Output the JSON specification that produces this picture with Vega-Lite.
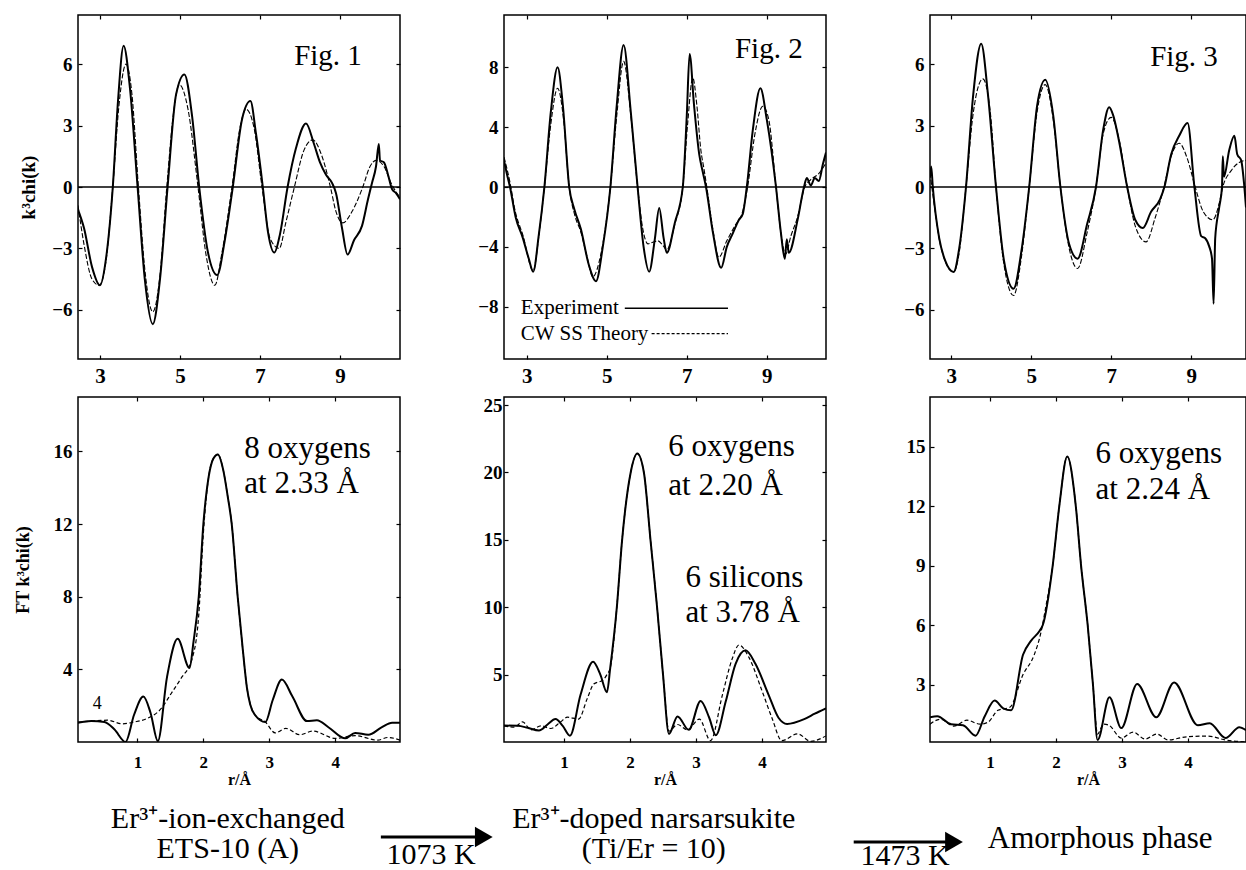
{
"$schema": "https://vega.github.io/schema/vega-lite/v6.json",
"padding": {"left": 13, "top": 13, "right": 0, "bottom": 0},
"background": "white",
"config": {
 "view": {"stroke": "black", "strokeWidth": 1.5},
 "axis": {"labelFont": "Liberation Serif", "labelFontWeight": "bold", "labelColor": "black", "tickColor": "black", "tickSize": -4, "tickWidth": 1.2, "domain": false, "grid": false, "titleFont": "Liberation Serif", "titleFontWeight": "bold", "titleColor": "black"},
 "text": {"font": "Liberation Serif", "color": "black"}
},
"datasets": {
 "t1e": [{"x":2.45,"y":-1.1},{"x":2.6,"y":-2.0},{"x":2.8,"y":-3.9},{"x":3.0,"y":-4.8},{"x":3.15,"y":-3.5},{"x":3.32,"y":0},{"x":3.45,"y":4.2},{"x":3.59,"y":6.9},{"x":3.75,"y":4.8},{"x":3.94,"y":0},{"x":4.12,"y":-4.5},{"x":4.32,"y":-6.7},{"x":4.5,"y":-4.5},{"x":4.69,"y":0},{"x":4.9,"y":4.5},{"x":5.11,"y":5.5},{"x":5.3,"y":3.5},{"x":5.48,"y":0},{"x":5.7,"y":-3.2},{"x":5.93,"y":-4.3},{"x":6.12,"y":-2.6},{"x":6.32,"y":0},{"x":6.55,"y":3.3},{"x":6.76,"y":4.2},{"x":6.9,"y":2.6},{"x":7.07,"y":0},{"x":7.2,"y":-2.2},{"x":7.36,"y":-3.2},{"x":7.5,"y":-2.3},{"x":7.69,"y":0},{"x":7.9,"y":1.9},{"x":8.15,"y":3.1},{"x":8.35,"y":2.1},{"x":8.5,"y":1.2},{"x":8.65,"y":0.6},{"x":8.8,"y":0.2},{"x":8.9,"y":-0.3},{"x":9.05,"y":-2.0},{"x":9.19,"y":-3.3},{"x":9.35,"y":-2.6},{"x":9.55,"y":-1.9},{"x":9.7,"y":-0.6},{"x":9.8,"y":0.2},{"x":9.9,"y":1.0},{"x":9.97,"y":2.1},{"x":10.0,"y":1.3},{"x":10.1,"y":1.2},{"x":10.2,"y":0.6},{"x":10.3,"y":-0.1},{"x":10.4,"y":-0.3},{"x":10.5,"y":-0.6}],
 "t1t": [{"x":2.45,"y":-0.9},{"x":2.6,"y":-2.8},{"x":2.8,"y":-4.5},{"x":2.98,"y":-4.8},{"x":3.15,"y":-3.6},{"x":3.32,"y":0},{"x":3.47,"y":3.9},{"x":3.65,"y":6.0},{"x":3.8,"y":4.5},{"x":3.96,"y":0},{"x":4.13,"y":-4.2},{"x":4.32,"y":-6.1},{"x":4.5,"y":-4.3},{"x":4.67,"y":0},{"x":4.85,"y":3.8},{"x":4.98,"y":5.0},{"x":5.2,"y":3.8},{"x":5.45,"y":0},{"x":5.65,"y":-3.3},{"x":5.87,"y":-4.8},{"x":6.05,"y":-3.2},{"x":6.3,"y":0},{"x":6.5,"y":2.9},{"x":6.65,"y":3.8},{"x":6.85,"y":2.9},{"x":7.05,"y":0},{"x":7.25,"y":-2.5},{"x":7.48,"y":-3.0},{"x":7.65,"y":-1.7},{"x":7.86,"y":0},{"x":8.1,"y":1.8},{"x":8.32,"y":2.3},{"x":8.55,"y":1.5},{"x":8.76,"y":0},{"x":8.9,"y":-1.2},{"x":9.07,"y":-1.75},{"x":9.3,"y":-1.2},{"x":9.57,"y":0},{"x":9.75,"y":1.0},{"x":9.9,"y":1.3},{"x":10.1,"y":1.0},{"x":10.3,"y":0.1},{"x":10.5,"y":-0.5}],
 "t2e": [{"x":2.43,"y":1.8},{"x":2.5,"y":0.9},{"x":2.58,"y":0},{"x":2.72,"y":-2.0},{"x":2.9,"y":-3.4},{"x":3.05,"y":-4.8},{"x":3.16,"y":-5.66},{"x":3.3,"y":-3.2},{"x":3.44,"y":0},{"x":3.6,"y":5.0},{"x":3.77,"y":8.0},{"x":3.9,"y":5.5},{"x":4.06,"y":0},{"x":4.19,"y":-1.5},{"x":4.35,"y":-2.8},{"x":4.55,"y":-5.2},{"x":4.73,"y":-6.3},{"x":4.9,"y":-4.0},{"x":5.09,"y":0},{"x":5.25,"y":5.5},{"x":5.42,"y":9.5},{"x":5.6,"y":5.0},{"x":5.77,"y":0},{"x":5.92,"y":-4.0},{"x":6.06,"y":-5.66},{"x":6.2,"y":-3.5},{"x":6.31,"y":-1.4},{"x":6.42,"y":-3.4},{"x":6.5,"y":-4.4},{"x":6.7,"y":-2.4},{"x":6.9,"y":0},{"x":7.0,"y":4.8},{"x":7.07,"y":8.9},{"x":7.18,"y":5.5},{"x":7.31,"y":2.2},{"x":7.4,"y":1.0},{"x":7.48,"y":0},{"x":7.65,"y":-3.0},{"x":7.86,"y":-5.4},{"x":8.0,"y":-4.0},{"x":8.15,"y":-3.1},{"x":8.3,"y":-2.2},{"x":8.4,"y":-1.8},{"x":8.5,"y":0},{"x":8.65,"y":3.8},{"x":8.84,"y":6.6},{"x":9.0,"y":4.5},{"x":9.23,"y":0},{"x":9.35,"y":-3.0},{"x":9.45,"y":-4.8},{"x":9.5,"y":-3.5},{"x":9.55,"y":-4.4},{"x":9.77,"y":-2.2},{"x":9.93,"y":0},{"x":10.0,"y":0.6},{"x":10.1,"y":0.1},{"x":10.2,"y":0.6},{"x":10.3,"y":0.4},{"x":10.4,"y":1.5},{"x":10.48,"y":2.3}],
 "t2t": [{"x":2.43,"y":2.0},{"x":2.58,"y":0.3},{"x":2.7,"y":-1.5},{"x":2.9,"y":-3.2},{"x":3.16,"y":-5.6},{"x":3.3,"y":-3.3},{"x":3.44,"y":0},{"x":3.6,"y":4.2},{"x":3.77,"y":6.6},{"x":3.92,"y":4.5},{"x":4.06,"y":0},{"x":4.2,"y":-1.9},{"x":4.35,"y":-3.0},{"x":4.5,"y":-4.6},{"x":4.65,"y":-6.0},{"x":4.85,"y":-4.5},{"x":5.09,"y":0},{"x":5.25,"y":4.8},{"x":5.42,"y":8.4},{"x":5.6,"y":4.8},{"x":5.77,"y":0},{"x":5.9,"y":-2.8},{"x":6.03,"y":-3.8},{"x":6.15,"y":-3.7},{"x":6.28,"y":-3.6},{"x":6.4,"y":-3.9},{"x":6.5,"y":-4.2},{"x":6.7,"y":-2.5},{"x":6.9,"y":0},{"x":7.02,"y":4.2},{"x":7.15,"y":7.3},{"x":7.25,"y":5.5},{"x":7.35,"y":2.5},{"x":7.43,"y":1.2},{"x":7.5,"y":0},{"x":7.65,"y":-2.8},{"x":7.8,"y":-4.7},{"x":8.0,"y":-3.6},{"x":8.2,"y":-2.6},{"x":8.4,"y":-1.6},{"x":8.52,"y":0},{"x":8.7,"y":3.5},{"x":8.9,"y":5.4},{"x":9.05,"y":4.5},{"x":9.23,"y":0},{"x":9.35,"y":-3.0},{"x":9.47,"y":-4.5},{"x":9.6,"y":-3.3},{"x":9.77,"y":-2.0},{"x":9.95,"y":0},{"x":10.1,"y":0.5},{"x":10.3,"y":0.9},{"x":10.48,"y":1.6}],
 "t3e": [{"x":2.47,"y":0.5},{"x":2.5,"y":1.0},{"x":2.54,"y":0},{"x":2.7,"y":-2.5},{"x":2.85,"y":-3.6},{"x":3.06,"y":-4.15},{"x":3.2,"y":-3.0},{"x":3.37,"y":0},{"x":3.55,"y":4.5},{"x":3.75,"y":7.0},{"x":3.92,"y":4.5},{"x":4.12,"y":0},{"x":4.32,"y":-3.6},{"x":4.56,"y":-4.97},{"x":4.75,"y":-3.2},{"x":4.95,"y":0},{"x":5.15,"y":4.0},{"x":5.35,"y":5.24},{"x":5.55,"y":3.5},{"x":5.73,"y":0},{"x":5.95,"y":-2.8},{"x":6.16,"y":-3.5},{"x":6.4,"y":-1.8},{"x":6.62,"y":0},{"x":6.8,"y":2.8},{"x":6.95,"y":3.9},{"x":7.05,"y":3.5},{"x":7.2,"y":2.2},{"x":7.4,"y":0},{"x":7.6,"y":-1.6},{"x":7.79,"y":-2.0},{"x":8.0,"y":-1.2},{"x":8.22,"y":-0.6},{"x":8.33,"y":0},{"x":8.5,"y":1.6},{"x":8.7,"y":2.5},{"x":8.91,"y":3.12},{"x":9.08,"y":0},{"x":9.25,"y":-2.4},{"x":9.35,"y":-2.5},{"x":9.45,"y":-2.9},{"x":9.52,"y":-3.5},{"x":9.56,"y":-5.7},{"x":9.6,"y":-2.5},{"x":9.7,"y":-1.0},{"x":9.77,"y":0},{"x":9.79,"y":1.5},{"x":9.82,"y":0.5},{"x":9.95,"y":1.8},{"x":10.08,"y":2.5},{"x":10.15,"y":1.6},{"x":10.25,"y":1.3},{"x":10.32,"y":0.2},{"x":10.37,"y":-1.0}],
 "t3t": [{"x":2.47,"y":0.7},{"x":2.55,"y":-0.5},{"x":2.75,"y":-3.0},{"x":3.06,"y":-4.15},{"x":3.2,"y":-3.2},{"x":3.37,"y":0},{"x":3.55,"y":3.6},{"x":3.79,"y":5.28},{"x":3.98,"y":3.6},{"x":4.12,"y":0},{"x":4.32,"y":-3.8},{"x":4.56,"y":-5.3},{"x":4.75,"y":-3.5},{"x":4.95,"y":0},{"x":5.15,"y":3.7},{"x":5.35,"y":5.0},{"x":5.55,"y":3.3},{"x":5.73,"y":0},{"x":5.95,"y":-3.0},{"x":6.16,"y":-3.98},{"x":6.4,"y":-2.2},{"x":6.62,"y":0},{"x":6.8,"y":2.6},{"x":7.0,"y":3.4},{"x":7.2,"y":2.3},{"x":7.4,"y":0},{"x":7.6,"y":-1.9},{"x":7.87,"y":-2.68},{"x":8.1,"y":-1.5},{"x":8.32,"y":0},{"x":8.5,"y":1.5},{"x":8.7,"y":2.14},{"x":8.9,"y":1.4},{"x":9.1,"y":0},{"x":9.3,"y":-1.2},{"x":9.54,"y":-1.6},{"x":9.7,"y":-0.8},{"x":9.79,"y":0},{"x":10.0,"y":0.8},{"x":10.2,"y":1.2},{"x":10.37,"y":1.3}],
 "b1e": [{"x":0.1,"y":1.06},{"x":0.3,"y":1.15},{"x":0.5,"y":1.1},{"x":0.65,"y":0.7},{"x":0.82,"y":0.0},{"x":0.95,"y":1.5},{"x":1.09,"y":2.5},{"x":1.2,"y":1.6},{"x":1.31,"y":0.05},{"x":1.45,"y":3.6},{"x":1.61,"y":5.68},{"x":1.79,"y":4.08},{"x":1.85,"y":5.5},{"x":1.93,"y":8.0},{"x":2.0,"y":12.0},{"x":2.08,"y":14.6},{"x":2.15,"y":15.6},{"x":2.22,"y":15.84},{"x":2.3,"y":15.0},{"x":2.37,"y":13.5},{"x":2.43,"y":12.0},{"x":2.52,"y":8.0},{"x":2.6,"y":5.0},{"x":2.66,"y":3.0},{"x":2.71,"y":2.07},{"x":2.78,"y":1.5},{"x":2.94,"y":1.1},{"x":3.05,"y":2.3},{"x":3.19,"y":3.44},{"x":3.35,"y":2.5},{"x":3.57,"y":1.15},{"x":3.72,"y":1.2},{"x":3.9,"y":0.8},{"x":4.15,"y":0.2},{"x":4.3,"y":0.5},{"x":4.5,"y":0.4},{"x":4.7,"y":0.8},{"x":4.86,"y":1.06},{"x":4.98,"y":1.06}],
 "b1t": [{"x":0.1,"y":1.1},{"x":0.3,"y":1.15},{"x":0.55,"y":1.2},{"x":0.77,"y":1.0},{"x":0.95,"y":1.1},{"x":1.15,"y":1.3},{"x":1.37,"y":1.88},{"x":1.5,"y":2.6},{"x":1.66,"y":3.5},{"x":1.83,"y":4.6},{"x":1.93,"y":7.0},{"x":2.0,"y":11.5},{"x":2.08,"y":14.6},{"x":2.15,"y":15.6},{"x":2.22,"y":15.84},{"x":2.3,"y":15.0},{"x":2.37,"y":13.5},{"x":2.43,"y":12.0},{"x":2.52,"y":8.0},{"x":2.6,"y":5.0},{"x":2.66,"y":3.0},{"x":2.71,"y":2.1},{"x":2.78,"y":1.5},{"x":2.94,"y":1.1},{"x":3.09,"y":0.5},{"x":3.25,"y":0.75},{"x":3.46,"y":0.4},{"x":3.66,"y":0.6},{"x":4.0,"y":0.2},{"x":4.3,"y":0.35},{"x":4.64,"y":0.1},{"x":4.8,"y":0.25},{"x":4.98,"y":0.1}],
 "b2e": [{"x":0.09,"y":1.22},{"x":0.3,"y":1.2},{"x":0.45,"y":1.05},{"x":0.62,"y":0.85},{"x":0.75,"y":1.3},{"x":0.87,"y":1.7},{"x":0.98,"y":1.2},{"x":1.09,"y":0.47},{"x":1.25,"y":3.5},{"x":1.44,"y":5.95},{"x":1.55,"y":5.0},{"x":1.65,"y":3.7},{"x":1.7,"y":5.5},{"x":1.8,"y":10.0},{"x":1.88,"y":15.0},{"x":2.01,"y":20.0},{"x":2.11,"y":21.4},{"x":2.21,"y":20.0},{"x":2.31,"y":15.0},{"x":2.41,"y":10.0},{"x":2.5,"y":5.0},{"x":2.59,"y":0.6},{"x":2.72,"y":1.9},{"x":2.89,"y":0.9},{"x":3.07,"y":3.05},{"x":3.2,"y":1.8},{"x":3.3,"y":0.5},{"x":3.45,"y":3.0},{"x":3.6,"y":5.8},{"x":3.75,"y":6.8},{"x":3.9,"y":5.8},{"x":4.1,"y":3.5},{"x":4.25,"y":1.8},{"x":4.38,"y":1.34},{"x":4.64,"y":1.7},{"x":4.8,"y":2.1},{"x":4.97,"y":2.5}],
 "b2t": [{"x":0.09,"y":1.2},{"x":0.25,"y":1.1},{"x":0.37,"y":1.5},{"x":0.5,"y":0.9},{"x":0.65,"y":1.2},{"x":0.8,"y":1.0},{"x":0.95,"y":1.5},{"x":1.05,"y":1.84},{"x":1.22,"y":1.7},{"x":1.35,"y":3.2},{"x":1.45,"y":4.3},{"x":1.59,"y":4.6},{"x":1.65,"y":5.0},{"x":1.7,"y":5.5},{"x":1.8,"y":10.0},{"x":1.88,"y":15.0},{"x":2.01,"y":20.0},{"x":2.11,"y":21.4},{"x":2.21,"y":20.0},{"x":2.31,"y":15.0},{"x":2.41,"y":10.0},{"x":2.5,"y":5.0},{"x":2.59,"y":0.8},{"x":2.72,"y":1.3},{"x":2.87,"y":0.9},{"x":3.05,"y":1.7},{"x":3.22,"y":0.1},{"x":3.4,"y":3.5},{"x":3.55,"y":6.2},{"x":3.65,"y":7.2},{"x":3.8,"y":6.3},{"x":4.0,"y":3.8},{"x":4.15,"y":1.8},{"x":4.3,"y":0.1},{"x":4.54,"y":0.6},{"x":4.74,"y":0.05},{"x":4.97,"y":0.45}],
 "b3e": [{"x":0.09,"y":1.35},{"x":0.2,"y":1.4},{"x":0.41,"y":1.0},{"x":0.59,"y":0.95},{"x":0.78,"y":0.42},{"x":0.92,"y":1.4},{"x":1.07,"y":2.19},{"x":1.2,"y":1.8},{"x":1.32,"y":1.7},{"x":1.5,"y":4.5},{"x":1.62,"y":5.2},{"x":1.75,"y":5.7},{"x":1.8,"y":6.0},{"x":1.95,"y":9.0},{"x":2.05,"y":12.0},{"x":2.17,"y":14.5},{"x":2.3,"y":12.0},{"x":2.38,"y":9.0},{"x":2.48,"y":6.0},{"x":2.56,"y":3.0},{"x":2.63,"y":0.2},{"x":2.81,"y":2.36},{"x":2.99,"y":0.8},{"x":3.23,"y":3.03},{"x":3.52,"y":1.35},{"x":3.79,"y":3.1},{"x":4.15,"y":0.94},{"x":4.33,"y":1.05},{"x":4.57,"y":0.3},{"x":4.78,"y":0.85},{"x":4.88,"y":0.7}],
 "b3t": [{"x":0.09,"y":1.0},{"x":0.25,"y":1.25},{"x":0.45,"y":0.9},{"x":0.65,"y":1.2},{"x":0.85,"y":1.0},{"x":0.97,"y":1.1},{"x":1.12,"y":1.7},{"x":1.3,"y":1.85},{"x":1.5,"y":3.5},{"x":1.67,"y":4.5},{"x":1.77,"y":5.6},{"x":1.85,"y":7.0},{"x":1.95,"y":9.0},{"x":2.05,"y":12.0},{"x":2.17,"y":14.5},{"x":2.3,"y":12.0},{"x":2.38,"y":9.0},{"x":2.48,"y":6.0},{"x":2.56,"y":3.0},{"x":2.63,"y":0.5},{"x":2.72,"y":1.0},{"x":2.8,"y":0.95},{"x":2.99,"y":0.3},{"x":3.17,"y":0.6},{"x":3.35,"y":0.25},{"x":3.53,"y":0.5},{"x":3.7,"y":0.2},{"x":3.95,"y":0.35},{"x":4.3,"y":0.4},{"x":4.57,"y":0.2},{"x":4.88,"y":0.1}]
},
"columns": 3,
"spacing": {"row": 38, "column": 104},
"bounds": "flush",
"concat": [
 {"width": 322, "height": 344, "resolve": {"axis": {"x": "independent", "y": "independent"}},
  "layer": [
  {"encoding": {"x": {"field": "x", "type": "quantitative", "scale": {"domain": [2.45, 10.5], "nice": false, "zero": false}, "axis": {"values": [3, 5, 7, 9], "title": null, "labelFontSize": 21, "labelPadding": 10}},
                "y": {"field": "y", "type": "quantitative", "scale": {"domain": [-8.4, 8.4], "nice": false, "zero": false}, "axis": {"values": [-6, -3, 0, 3, 6], "title": "k³chi(k)", "titleFontSize": 19, "labelFontSize": 19, "labelPadding": 10, "titlePadding": 13}}},
   "layer": [
   {"data": {"name": "t1e"}, "mark": {"type": "line", "color": "black", "strokeWidth": 2, "interpolate": "monotone", "clip": true}},
   {"data": {"name": "t1t"}, "mark": {"type": "line", "color": "black", "strokeWidth": 1.1, "strokeDash": [5, 2], "interpolate": "monotone", "clip": true}},
   {"data": {"values": [{"x": 2.45, "y": 0}, {"x": 10.5, "y": 0}]}, "mark": {"type": "line", "color": "black", "strokeWidth": 1.5}},
   {"data": {"values": [{"x": 8.7, "y": 6.4, "t": "Fig. 1"}]}, "mark": {"type": "text", "font": "Liberation Serif", "fontSize": 29, "align": "center", "baseline": "middle"}, "encoding": {"text": {"field": "t"}}}
  ]},
  {"data": {"values": [{"x": 2.45, "y": 0}]}, "mark": {"type": "point", "opacity": 0},
   "encoding": {"x": {"field": "x", "type": "quantitative", "scale": {"domain": [2.45, 10.5], "nice": false, "zero": false}, "axis": {"orient": "top", "values": [3, 5, 7, 9], "labels": false, "title": null}},
                "y": {"field": "y", "type": "quantitative", "scale": {"domain": [-8.4, 8.4], "nice": false, "zero": false}, "axis": {"orient": "right", "values": [-6, -3, 0, 3, 6], "labels": false, "title": null}}}}
 ]},
 {"width": 322, "height": 344, "resolve": {"axis": {"x": "independent", "y": "independent"}},
  "layer": [
  {"encoding": {"x": {"field": "x", "type": "quantitative", "scale": {"domain": [2.43, 10.48], "nice": false, "zero": false}, "axis": {"values": [3, 5, 7, 9], "title": null, "labelFontSize": 21, "labelPadding": 10}},
                "y": {"field": "y", "type": "quantitative", "scale": {"domain": [-11.5, 11.5], "nice": false, "zero": false}, "axis": {"values": [-8, -4, 0, 4, 8], "title": null, "labelFontSize": 19, "labelPadding": 10}}},
   "layer": [
   {"data": {"name": "t2e"}, "mark": {"type": "line", "color": "black", "strokeWidth": 2, "interpolate": "monotone", "clip": true}},
   {"data": {"name": "t2t"}, "mark": {"type": "line", "color": "black", "strokeWidth": 1.1, "strokeDash": [5, 2], "interpolate": "monotone", "clip": true}},
   {"data": {"values": [{"x": 2.43, "y": 0}, {"x": 10.48, "y": 0}]}, "mark": {"type": "line", "color": "black", "strokeWidth": 1.5}},
   {"data": {"values": [{"x": 5.45, "x2": 8.03, "y": -8.1}]}, "mark": {"type": "rule", "color": "black", "strokeWidth": 1.5}, "encoding": {"x2": {"field": "x2"}}},
   {"data": {"values": [{"x": 6.12, "x2": 8.03, "y": -9.8}]}, "mark": {"type": "rule", "color": "black", "strokeWidth": 1.2, "strokeDash": [3, 2]}, "encoding": {"x2": {"field": "x2"}}},
   {"data": {"values": [{"x": 2.85, "y": -8.1, "t": "Experiment"}, {"x": 2.85, "y": -9.8, "t": "CW SS Theory"}]}, "mark": {"type": "text", "font": "Liberation Serif", "fontSize": 21, "align": "left", "baseline": "middle"}, "encoding": {"text": {"field": "t"}}},
   {"data": {"values": [{"x": 9.05, "y": 9.2, "t": "Fig. 2"}]}, "mark": {"type": "text", "font": "Liberation Serif", "fontSize": 29, "align": "center", "baseline": "middle"}, "encoding": {"text": {"field": "t"}}}
  ]},
  {"data": {"values": [{"x": 2.43, "y": 0}]}, "mark": {"type": "point", "opacity": 0},
   "encoding": {"x": {"field": "x", "type": "quantitative", "scale": {"domain": [2.43, 10.48], "nice": false, "zero": false}, "axis": {"orient": "top", "values": [3, 5, 7, 9], "labels": false, "title": null}},
                "y": {"field": "y", "type": "quantitative", "scale": {"domain": [-11.5, 11.5], "nice": false, "zero": false}, "axis": {"orient": "right", "values": [-8, -4, 0, 4, 8], "labels": false, "title": null}}}}
 ]},
 {"width": 316, "height": 344, "resolve": {"axis": {"x": "independent", "y": "independent"}},
  "layer": [
  {"encoding": {"x": {"field": "x", "type": "quantitative", "scale": {"domain": [2.47, 10.37], "nice": false, "zero": false}, "axis": {"values": [3, 5, 7, 9], "title": null, "labelFontSize": 21, "labelPadding": 10}},
                "y": {"field": "y", "type": "quantitative", "scale": {"domain": [-8.4, 8.4], "nice": false, "zero": false}, "axis": {"values": [-6, -3, 0, 3, 6], "title": null, "labelFontSize": 19, "labelPadding": 10}}},
   "layer": [
   {"data": {"name": "t3e"}, "mark": {"type": "line", "color": "black", "strokeWidth": 2, "interpolate": "monotone", "clip": true}},
   {"data": {"name": "t3t"}, "mark": {"type": "line", "color": "black", "strokeWidth": 1.1, "strokeDash": [5, 2], "interpolate": "monotone", "clip": true}},
   {"data": {"values": [{"x": 2.47, "y": 0}, {"x": 10.37, "y": 0}]}, "mark": {"type": "line", "color": "black", "strokeWidth": 1.5}},
   {"data": {"values": [{"x": 8.82, "y": 6.37, "t": "Fig. 3"}]}, "mark": {"type": "text", "font": "Liberation Serif", "fontSize": 29, "align": "center", "baseline": "middle"}, "encoding": {"text": {"field": "t"}}}
  ]},
  {"data": {"values": [{"x": 2.47, "y": 0}]}, "mark": {"type": "point", "opacity": 0},
   "encoding": {"x": {"field": "x", "type": "quantitative", "scale": {"domain": [2.47, 10.37], "nice": false, "zero": false}, "axis": {"orient": "top", "values": [3, 5, 7, 9], "labels": false, "title": null}},
                "y": {"field": "y", "type": "quantitative", "scale": {"domain": [-8.4, 8.4], "nice": false, "zero": false}, "axis": null}}}
 ]},
 {"width": 322, "height": 345, "resolve": {"axis": {"x": "independent", "y": "independent"}},
  "layer": [
  {"encoding": {"x": {"field": "x", "type": "quantitative", "scale": {"domain": [0.1, 4.98], "nice": false, "zero": false}, "axis": {"values": [1, 2, 3, 4], "title": "r/Å", "titleFontSize": 16, "titlePadding": 1, "labelFontSize": 17, "labelPadding": 16}},
                "y": {"field": "y", "type": "quantitative", "scale": {"domain": [0, 19], "nice": false, "zero": false}, "axis": {"values": [4, 8, 12, 16], "title": "FT k³chi(k)", "titleFontSize": 18, "labelFontSize": 19, "labelPadding": 10, "titlePadding": 21}}},
   "layer": [
   {"data": {"name": "b1e"}, "mark": {"type": "line", "color": "black", "strokeWidth": 2, "interpolate": "monotone", "clip": true}},
   {"data": {"name": "b1t"}, "mark": {"type": "line", "color": "black", "strokeWidth": 1.2, "strokeDash": [4, 2.5], "interpolate": "monotone", "clip": true}},
   {"data": {"values": [{"x": 2.62, "y": 16.15, "t": "8 oxygens"}, {"x": 2.62, "y": 14.2, "t": "at 2.33 Å"}]}, "mark": {"type": "text", "font": "Liberation Serif", "fontSize": 31, "align": "left", "baseline": "middle"}, "encoding": {"text": {"field": "t"}}},
   {"data": {"values": [{"x": 0.39, "y": 2.1, "t": "4"}]}, "mark": {"type": "text", "font": "Liberation Serif", "fontSize": 18, "align": "center", "baseline": "middle"}, "encoding": {"text": {"field": "t"}}},
   {"data": {"values": [{"x": 2.37, "y": -4.24, "t": "Er³⁺-ion-exchanged"}, {"x": 2.37, "y": -5.89, "t": "ETS-10 (A)"}]}, "mark": {"type": "text", "font": "Liberation Serif", "fontSize": 30, "align": "center", "baseline": "middle"}, "encoding": {"text": {"field": "t"}}},
   {"data": {"values": [{"x": 4.69, "x2": 6.13, "y": -5.23}]}, "mark": {"type": "rule", "color": "black", "strokeWidth": 3}, "encoding": {"x2": {"field": "x2"}}},
   {"data": {"values": [{"x": 6.25, "y": -5.23}]}, "mark": {"type": "point", "shape": "triangle-right", "filled": true, "color": "black", "opacity": 1, "size": 420}},
   {"data": {"values": [{"x": 5.45, "y": -6.2, "t": "1073 K"}]}, "mark": {"type": "text", "font": "Liberation Serif", "fontSize": 30, "align": "center", "baseline": "middle"}, "encoding": {"text": {"field": "t"}}}
  ]},
  {"data": {"values": [{"x": 0.1, "y": 0}]}, "mark": {"type": "point", "opacity": 0},
   "encoding": {"x": {"field": "x", "type": "quantitative", "scale": {"domain": [0.1, 4.98], "nice": false, "zero": false}, "axis": {"orient": "top", "values": [1, 2, 3, 4], "labels": false, "title": null}},
                "y": {"field": "y", "type": "quantitative", "scale": {"domain": [0, 19], "nice": false, "zero": false}, "axis": {"orient": "right", "values": [4, 8, 12, 16], "labels": false, "title": null}}}}
 ]},
 {"width": 322, "height": 345, "resolve": {"axis": {"x": "independent", "y": "independent"}},
  "layer": [
  {"encoding": {"x": {"field": "x", "type": "quantitative", "scale": {"domain": [0.09, 4.97], "nice": false, "zero": false}, "axis": {"values": [1, 2, 3, 4], "title": "r/Å", "titleFontSize": 16, "titlePadding": 1, "labelFontSize": 17, "labelPadding": 16}},
                "y": {"field": "y", "type": "quantitative", "scale": {"domain": [0, 25.6], "nice": false, "zero": false}, "axis": {"values": [5, 10, 15, 20, 25], "title": null, "labelFontSize": 19, "labelPadding": 6}}},
   "layer": [
   {"data": {"name": "b2e"}, "mark": {"type": "line", "color": "black", "strokeWidth": 2, "interpolate": "monotone", "clip": true}},
   {"data": {"name": "b2t"}, "mark": {"type": "line", "color": "black", "strokeWidth": 1.2, "strokeDash": [4, 2.5], "interpolate": "monotone", "clip": true}},
   {"data": {"values": [{"x": 2.58, "y": 21.9, "t": "6 oxygens"}, {"x": 2.58, "y": 19.0, "t": "at 2.20 Å"}, {"x": 2.84, "y": 12.2, "t": "6 silicons"}, {"x": 2.84, "y": 9.55, "t": "at 3.78 Å"}]}, "mark": {"type": "text", "font": "Liberation Serif", "fontSize": 31, "align": "left", "baseline": "middle"}, "encoding": {"text": {"field": "t"}}},
   {"data": {"values": [{"x": 2.36, "y": -5.71, "t": "Er³⁺-doped narsarsukite"}, {"x": 2.36, "y": -7.94, "t": "(Ti/Er = 10)"}]}, "mark": {"type": "text", "font": "Liberation Serif", "fontSize": 30, "align": "center", "baseline": "middle"}, "encoding": {"text": {"field": "t"}}},
   {"data": {"values": [{"x": 5.39, "x2": 6.79, "y": -7.42}]}, "mark": {"type": "rule", "color": "black", "strokeWidth": 3}, "encoding": {"x2": {"field": "x2"}}},
   {"data": {"values": [{"x": 6.91, "y": -7.42}]}, "mark": {"type": "point", "shape": "triangle-right", "filled": true, "color": "black", "opacity": 1, "size": 420}},
   {"data": {"values": [{"x": 6.17, "y": -8.45, "t": "1473 K"}]}, "mark": {"type": "text", "font": "Liberation Serif", "fontSize": 30, "align": "center", "baseline": "middle"}, "encoding": {"text": {"field": "t"}}}
  ]},
  {"data": {"values": [{"x": 0.09, "y": 0}]}, "mark": {"type": "point", "opacity": 0},
   "encoding": {"x": {"field": "x", "type": "quantitative", "scale": {"domain": [0.09, 4.97], "nice": false, "zero": false}, "axis": {"orient": "top", "values": [1, 2, 3, 4], "labels": false, "title": null}},
                "y": {"field": "y", "type": "quantitative", "scale": {"domain": [0, 25.6], "nice": false, "zero": false}, "axis": {"orient": "right", "values": [5, 10, 15, 20, 25], "labels": false, "title": null}}}}
 ]},
 {"width": 316, "height": 345, "resolve": {"axis": {"x": "independent", "y": "independent"}},
  "layer": [
  {"encoding": {"x": {"field": "x", "type": "quantitative", "scale": {"domain": [0.09, 4.88], "nice": false, "zero": false}, "axis": {"values": [1, 2, 3, 4], "title": "r/Å", "titleFontSize": 16, "titlePadding": 1, "labelFontSize": 17, "labelPadding": 16}},
                "y": {"field": "y", "type": "quantitative", "scale": {"domain": [0.1, 17.5], "nice": false, "zero": false}, "axis": {"values": [3, 6, 9, 12, 15], "title": null, "labelFontSize": 19, "labelPadding": 9}}},
   "layer": [
   {"data": {"name": "b3e"}, "mark": {"type": "line", "color": "black", "strokeWidth": 2, "interpolate": "monotone", "clip": true}},
   {"data": {"name": "b3t"}, "mark": {"type": "line", "color": "black", "strokeWidth": 1.2, "strokeDash": [4, 2.5], "interpolate": "monotone", "clip": true}},
   {"data": {"values": [{"x": 2.6, "y": 14.65, "t": "6 oxygens"}, {"x": 2.6, "y": 12.8, "t": "at 2.24 Å"}]}, "mark": {"type": "text", "font": "Liberation Serif", "fontSize": 31, "align": "left", "baseline": "middle"}, "encoding": {"text": {"field": "t"}}},
   {"data": {"values": [{"x": 2.67, "y": -4.79, "t": "Amorphous phase"}]}, "mark": {"type": "text", "font": "Liberation Serif", "fontSize": 31, "align": "center", "baseline": "middle"}, "encoding": {"text": {"field": "t"}}}
  ]},
  {"data": {"values": [{"x": 0.09, "y": 0.1}]}, "mark": {"type": "point", "opacity": 0},
   "encoding": {"x": {"field": "x", "type": "quantitative", "scale": {"domain": [0.09, 4.88], "nice": false, "zero": false}, "axis": {"orient": "top", "values": [1, 2, 3, 4], "labels": false, "title": null}},
                "y": {"field": "y", "type": "quantitative", "scale": {"domain": [0.1, 17.5], "nice": false, "zero": false}, "axis": null}}}
 ]}
]
}
